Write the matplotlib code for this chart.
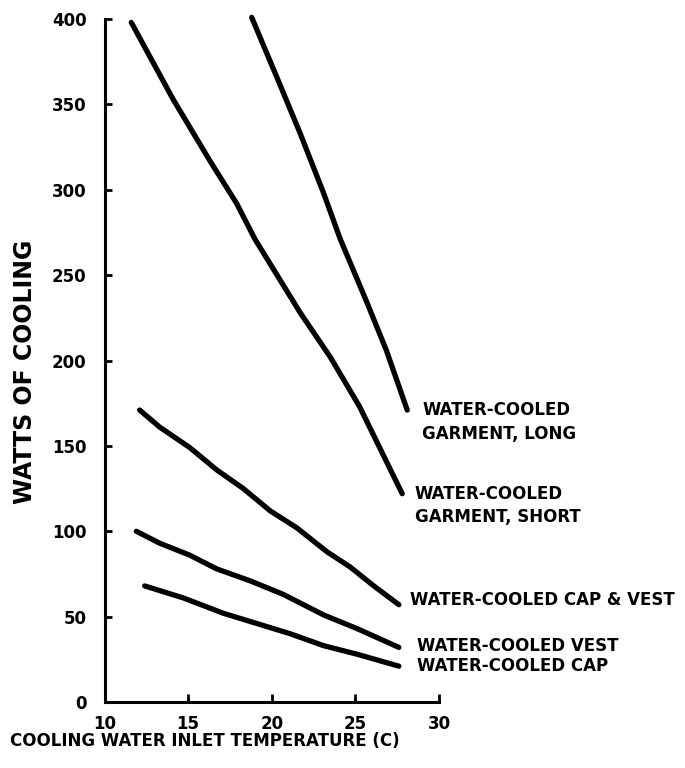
import matplotlib
matplotlib.use("Agg")
import matplotlib.pyplot as plt

# --- DATA ---
long_x = [18.8, 20.3, 21.7, 23.1, 24.1, 25.65, 26.85, 28.1]
long_y = [401, 366, 333, 298, 271, 235, 206, 171]

short_x = [11.6, 14.1, 16.3, 17.9, 19.0, 21.7, 23.5, 25.25, 27.8]
short_y = [398, 353, 317, 292, 271, 228, 202, 173, 122]

capvest_x = [12.1, 13.3, 15.1, 16.7, 18.3, 19.9, 21.5, 23.3, 24.7, 26.1, 27.6]
capvest_y = [171, 161, 149, 136, 125, 112, 102, 88, 79, 68, 57]

vest_x = [11.9, 13.3, 15.1, 16.7, 18.7, 20.7, 23.1, 25.1, 27.6]
vest_y = [100, 93, 86, 78, 71, 63, 51, 43, 32]

cap_x = [12.4, 14.7, 17.1, 19.1, 21.1, 23.1, 25.1, 27.6]
cap_y = [68, 61, 52, 46, 40, 33, 28, 21]

x_ticks = [10, 15, 20, 25, 30]
y_ticks = [0, 50, 100, 150, 200, 250, 300, 350, 400]

series = [
    (long_x, long_y, "WATER-COOLED\nGARMENT, LONG", 29.0, 164),
    (short_x, short_y, "WATER-COOLED\nGARMENT, SHORT", 28.55, 115),
    (capvest_x, capvest_y, "WATER-COOLED CAP & VEST", 28.25, 60),
    (vest_x, vest_y, "WATER-COOLED VEST", 28.7, 33),
    (cap_x, cap_y, "WATER-COOLED CAP", 28.7, 21),
]

BOLD = dict(family="DejaVu Sans", weight="bold")

# --- PLOT ---
fig = plt.figure(figsize=(6.85, 7.68), dpi=100)
ax = fig.add_axes([0.1526, 0.0859, 0.4883, 0.8893])

for xs, ys, label, lx, ly in series:
    ax.plot(xs, ys, color="black", lw=3.8, solid_capstyle="round",
            solid_joinstyle="round", clip_on=False)
    ax.text(lx, ly, label, ha="left", va="center", fontsize=12,
            linespacing=1.4, clip_on=False, **BOLD)

ax.set_xlim(10, 30)
ax.set_ylim(0, 400)
ax.set_xticks(x_ticks)
ax.set_yticks(y_ticks)
ax.set_xticklabels([str(t) for t in x_ticks], size=12, **BOLD)
ax.set_yticklabels([str(t) for t in y_ticks], size=12, **BOLD)

for side in ["top", "right"]:
    ax.spines[side].set_visible(False)
for side in ["left", "bottom"]:
    ax.spines[side].set_linewidth(2.2)

ax.tick_params(axis="y", direction="in", length=5, width=2, pad=13)
ax.tick_params(axis="x", direction="in", length=6, width=2, pad=9)

fig.text(10 / 685, 1 - 741 / 768, "COOLING WATER INLET TEMPERATURE (C)",
         ha="left", va="center", fontsize=12, **BOLD)
fig.text(25 / 685, 1 - 372 / 768, "WATTS OF COOLING", rotation=90,
         ha="center", va="center", fontsize=17, **BOLD)

fig.savefig("out.png", dpi=100)
